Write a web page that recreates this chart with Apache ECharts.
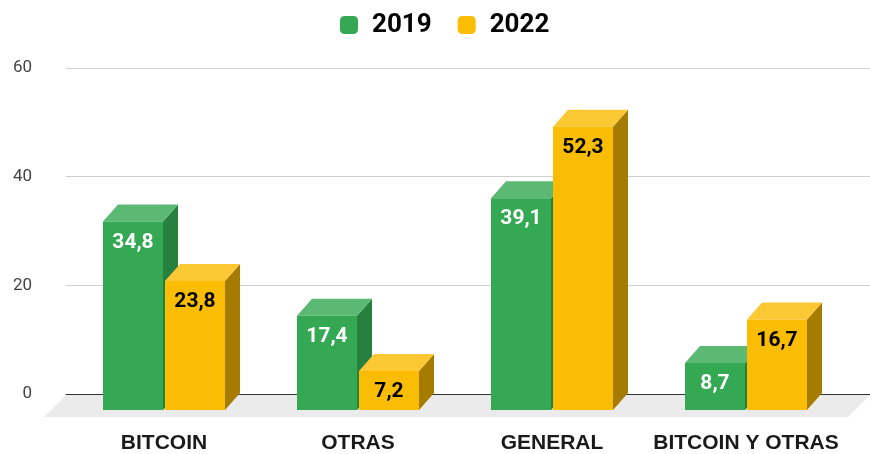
<!DOCTYPE html>
<html>
<head>
<meta charset="utf-8">
<script src="https://cdn.jsdelivr.net/npm/echarts@6/dist/echarts.min.js"></script>
<style>
  html, body { margin: 0; padding: 0; background: #fff; }
  #chart { width: 870px; height: 454px; }
</style>
</head>
<body>
<div id="chart"></div>
<script>
const categories = ['BITCOIN', 'OTRAS', 'GENERAL', 'BITCOIN Y OTRAS']
const values2019 = [34.8, 17.4, 39.1, 8.7]
const values2022 = [23.8, 7.2, 52.3, 16.7]
const yTicks = [0, 20, 40, 60]

// 3d look: front face is pushed down-left from the value plane
const DX = 15
const DY = 17
const BAR_W = 60

const green = { front: '#34a853', top: '#5bb974', side: '#27803f', label: '#ffffff' }
const yellow = { front: '#fbbc04', top: '#fcc934', side: '#a67c00', label: '#000000' }

function fmt(v) {
  return String(v).replace('.', ',')
}

function barRenderer(colors, side) {
  return function (params, api) {
    const cat = api.value(0)
    const val = api.value(1)
    const p = api.coord([cat, val])
    const base = api.coord([cat, 0])
    // back-face left edge
    const bx = side < 0 ? p[0] - BAR_W - 1 : p[0] + 1
    const fx = bx - DX
    const fy = p[1] + DY
    const fb = base[1] + DY
    return {
      type: 'group',
      children: [
        {
          type: 'polygon',
          shape: { points: [[fx + BAR_W, fy], [bx + BAR_W, p[1]], [bx + BAR_W, base[1]], [fx + BAR_W, fb]] },
          style: { fill: colors.side }
        },
        {
          type: 'polygon',
          shape: { points: [[fx, fy], [fx + BAR_W, fy], [bx + BAR_W, p[1]], [bx, p[1]]] },
          style: { fill: colors.top }
        },
        {
          type: 'rect',
          shape: { x: fx, y: fy, width: BAR_W, height: fb - fy },
          style: { fill: colors.front }
        },
        {
          type: 'text',
          x: fx + BAR_W / 2,
          y: fy + 21,
          style: {
            text: fmt(val),
            fill: colors.label,
            font: 'bold 21px Roboto',
            align: 'center',
            verticalAlign: 'middle'
          }
        }
      ]
    }
  }
}

function floorRenderer(params, api) {
  const cs = params.coordSys
  const y0 = api.coord([0, 0])[1] + 1
  const depth = 22
  return {
    type: 'polygon',
    shape: {
      points: [
        [cs.x, y0], [cs.x + cs.width, y0],
        [cs.x + cs.width - depth, y0 + depth], [cs.x - depth, y0 + depth]
      ]
    },
    style: { fill: '#ebebeb' }
  }
}

const chart = echarts.init(document.getElementById('chart'))

const option = {
  animation: false,
  legend: {
    top: 7,
    left: 335,
    icon: 'roundRect',
    itemWidth: 18,
    itemHeight: 18,
    itemGap: 26,
    data: ['2019', '2022'],
    textStyle: {
      fontFamily: 'Roboto',
      fontWeight: 'bold',
      fontSize: 26,
      color: '#000',
      padding: [0, 0, 0, 9]
    }
  },
  grid: [
    { left: 66, right: 0, top: 68, bottom: 60 },
    { left: 82, right: 12, top: 68, bottom: 60 }
  ],
  xAxis: [
    {
      gridIndex: 0,
      type: 'value',
      min: 0,
      max: 1,
      axisLine: { show: true, onZero: true, lineStyle: { color: '#333', width: 1 } },
      axisTick: { show: false },
      axisLabel: { show: false },
      splitLine: { show: false }
    },
    {
      gridIndex: 1,
      type: 'category',
      data: categories,
      axisLine: { show: false },
      axisTick: { show: false },
      axisLabel: {
        interval: 0,
        margin: 40,
        padding: [0, 30, 0, 0],
        color: '#1a1a1a',
        fontFamily: 'Liberation Sans',
        fontWeight: 'bold',
        fontSize: 21
      }
    }
  ],
  yAxis: [
    {
      gridIndex: 0,
      type: 'value',
      min: yTicks[0],
      max: yTicks[yTicks.length - 1],
      interval: 20,
      axisLine: { show: false },
      axisTick: { show: false },
      axisLabel: { margin: 34, color: '#444', fontFamily: 'Roboto', fontSize: 17 },
      splitLine: { lineStyle: { color: '#d0d0d0', width: 1 } }
    },
    {
      gridIndex: 1,
      type: 'value',
      min: yTicks[0],
      max: yTicks[yTicks.length - 1],
      show: false
    }
  ],
  series: [
    {
      type: 'custom',
      xAxisIndex: 0,
      yAxisIndex: 0,
      silent: true,
      renderItem: floorRenderer,
      data: [[0, 0]],
      z: 1
    },
    {
      name: '2019',
      type: 'custom',
      xAxisIndex: 1,
      yAxisIndex: 1,
      itemStyle: { color: green.front },
      renderItem: barRenderer(green, -1),
      data: values2019.map((v, i) => [i, v])
    },
    {
      name: '2022',
      type: 'custom',
      xAxisIndex: 1,
      yAxisIndex: 1,
      itemStyle: { color: yellow.front },
      renderItem: barRenderer(yellow, 1),
      data: values2022.map((v, i) => [i, v])
    }
  ]
}

chart.setOption(option)
</script>
</body>
</html>
